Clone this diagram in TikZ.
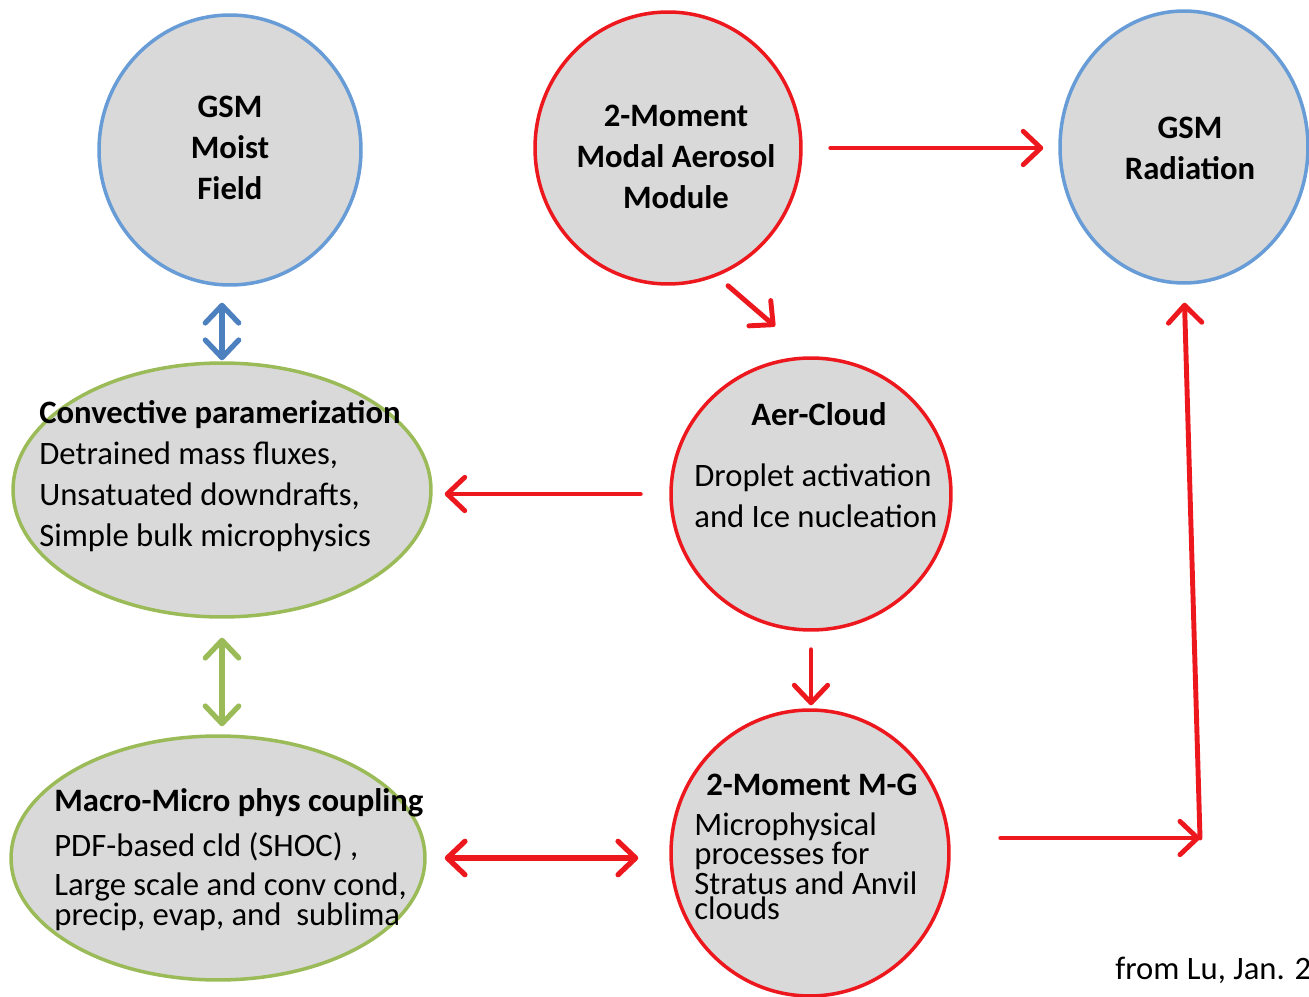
\documentclass[tikz,border=0pt]{standalone}
\usepackage[RGB]{xcolor}
\usepackage{fontspec}
\setmainfont{Carlito}
\usetikzlibrary{shapes.geometric,arrows.meta}
\definecolor{R}{RGB}{236,24,30}
\definecolor{B}{RGB}{104,156,214}
\definecolor{BA}{RGB}{76,128,190}
\definecolor{G}{RGB}{155,187,89}
\definecolor{F}{RGB}{217,217,217}
\tikzset{
  bubble/.style={ellipse, fill=F, line width=2pt, inner sep=0pt},
  txt/.style={inner sep=0pt, align=left, font=\fontsize{18.6}{23.3}\selectfont},
  boldtxt/.style={txt, font=\fontsize{18.6}{23.3}\selectfont\bfseries},
  tighttxt/.style={inner sep=0pt, align=left, font=\fontsize{18.6}{14.2}\selectfont},
  barb/.style={line width=2.8pt, line cap=round, -{Straight Barb[length=10pt,width=19pt,round]}},
  barbs/.style={line width=3pt, line cap=round, {Straight Barb[length=10pt,width=19pt,round]}-{Straight Barb[length=10pt,width=19pt,round]}},
}
% #1 name, #2 colour, #3 width, #4 height, #5 centre
\newcommand{\bubblenode}[5]{\node[bubble, draw=#2, minimum width=#3, minimum height=#4] (#1) at #5 {};}
\newcommand{\drawred}{\draw[R, barb]}

\begin{document}
\begin{tikzpicture}[x=0.02cm, y=-0.02cm]
\useasboundingbox (0,0) rectangle (1309,997);
\bubblenode{moist}{B}{5.24cm}{5.4cm}{(230,150)}
\bubblenode{aerosol}{R}{5.32cm}{5.44cm}{(668,148)}
\bubblenode{rad}{B}{4.96cm}{5.44cm}{(1184,147)}
\bubblenode{conv}{G}{8.36cm}{5.08cm}{(222,490)}
\bubblenode{aercloud}{R}{5.6cm}{5.44cm}{(811,494)}
\bubblenode{macro}{G}{8.28cm}{4.88cm}{(218,858)}
\bubblenode{mg}{R}{5.56cm}{5.72cm}{(810,853)}
\coordinate (corner) at (1200,838);
% texts
\node[boldtxt, align=center] (moisttxt) at (230,148) {GSM\\Moist\\Field};
\node[boldtxt, align=center] (aerosoltxt) at (676,157) {2-Moment\\Modal Aerosol\\Module};
\node[boldtxt, align=center] (radtxt) at (1190,148) {GSM\\Radiation};
\node[txt, anchor=west] (convtxt) at (39,476) {\textbf{Convective paramerization}\\Detrained mass fluxes,\\Unsatuated downdrafts,\\Simple bulk microphysics};
\node[boldtxt] (aercloudtitle) at (819,414) {Aer-Cloud};
\node[txt, anchor=west] (aercloudtxt) at (694,496) {Droplet activation\\and Ice nucleation};
\node[boldtxt, anchor=west] (macrotitle) at (54,803) {Macro-Micro phys coupling};
\node[txt, anchor=west] (macrotxt) at (54,847) {PDF-based cld (SHOC) ,};
\node[tighttxt, anchor=west] (macrotxt2) at (54,902) {Large scale and conv cond,\\precip, evap, and~ sublima};
\node[boldtxt, anchor=west] (mgtitle) at (706,785) {2-Moment M-G};
\node[tighttxt, anchor=west] (mgtxt) at (694,866) {Microphysical\\processes for\\Stratus and Anvil\\clouds};
\node[txt, anchor=west] (from) at (1115,970) {from Lu, Jan. 2};
% connectors
\draw[BA, barbs, shorten <=0.32cm, shorten >=0.02cm] (moist.south -| conv.north) -- (conv.north);
\draw[G, barbs, shorten <=0.38cm, shorten >=0.16cm] (conv.south) -- (conv.south |- macro.north);
\drawred[shorten <=0.56cm, shorten >=0.3cm] (aerosol.east) -- (aerosol.east -| rad.west);
\drawred ([xshift=1.2cm]aerosol.south) -- ([xshift=-0.72cm, yshift=0.6cm]aercloud.north);
\drawred[shorten <=0.58cm, shorten >=0.24cm] (aercloud.west) -- (aercloud.west -| conv.east);
\drawred[shorten <=0.36cm, shorten >=0.06cm] (aercloud.south) -- (aercloud.south |- mg.north);
\draw[R, barbs, shorten <=0.36cm, shorten >=0.62cm] (macro.east) -- (macro.east -| mg.west);
\drawred[shorten <=1cm] (mg.east |- corner) -- (corner);
\drawred[shorten >=0.36cm] (corner) -- (rad.south);
\end{tikzpicture}
\end{document}
